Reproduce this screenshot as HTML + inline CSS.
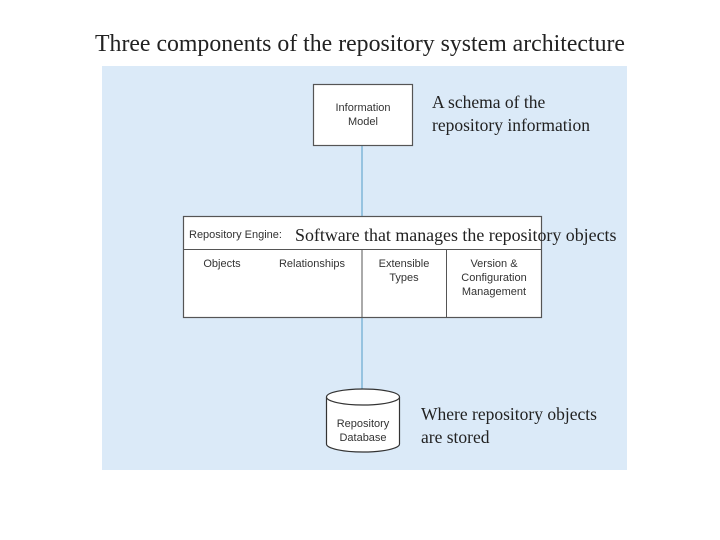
<!DOCTYPE html>
<html><head><style>
body{margin:0;width:720px;height:540px;background:#fff;position:relative;overflow:hidden}
div{position:absolute}
.s{font-family:"Liberation Sans",sans-serif;font-size:11px;color:#333;text-align:center;line-height:14px}
.r{font-family:"Liberation Serif",serif;color:#222}
</style></head><body>
<div class="r" style="left:0;width:720px;top:31px;text-align:center;font-size:23.8px;white-space:nowrap">Three components of the repository system architecture</div>
<div style="left:102px;top:66px;width:525px;height:404px;background:#dbeaf8"></div>
<svg width="720" height="540" style="position:absolute;left:0;top:0">
<line x1="362" y1="145" x2="362" y2="216" stroke="#7fb6d9" stroke-width="1.5"/>
<line x1="362" y1="318" x2="362" y2="392" stroke="#7fb6d9" stroke-width="1.5"/>
<rect x="313.5" y="84.5" width="99" height="61" fill="#fff" stroke="#555" stroke-width="1.2"/>
<rect x="183.5" y="216.5" width="358" height="101" fill="#fff" stroke="#555" stroke-width="1.2"/>
<line x1="184" y1="249.5" x2="541" y2="249.5" stroke="#555"/>
<line x1="362" y1="250" x2="362" y2="318" stroke="#555"/>
<line x1="446.5" y1="250" x2="446.5" y2="318" stroke="#555"/>
<path d="M326.5,397 L326.5,444 A36.5,8 0 0 0 399.5,444 L399.5,397" fill="#fff" stroke="#333" stroke-width="1.2"/>
<ellipse cx="363" cy="397" rx="36.5" ry="8" fill="#fff" stroke="#333" stroke-width="1.2"/>
</svg>
<div class="s" style="left:313px;width:100px;top:101px">Information<br>Model</div>
<div class="s" style="left:189px;top:228px;text-align:left">Repository Engine:</div>
<div class="r" style="left:295px;top:225px;font-size:17.9px;white-space:nowrap">Software that manages the repository objects</div>
<div class="s" style="left:190px;width:64px;top:257px">Objects</div>
<div class="s" style="left:270px;width:84px;top:257px">Relationships</div>
<div class="s" style="left:362px;width:84px;top:257px">Extensible<br>Types</div>
<div class="s" style="left:446px;width:96px;top:257px">Version &amp;<br>Configuration<br>Management</div>
<div class="s" style="left:326px;width:74px;top:417px">Repository<br>Database</div>
<div class="r" style="left:432px;top:91px;font-size:17.5px;line-height:23px;white-space:nowrap">A schema of the<br>repository information</div>
<div class="r" style="left:421px;top:403px;font-size:17.5px;line-height:23px;white-space:nowrap">Where repository objects<br>are stored</div>
</body></html>
